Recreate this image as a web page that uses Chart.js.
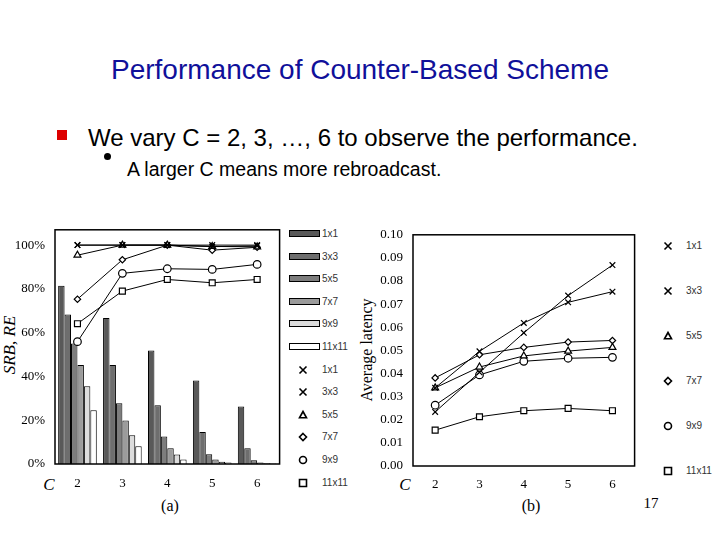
<!DOCTYPE html>
<html>
<head>
<meta charset="utf-8">
<script src="https://cdn.jsdelivr.net/npm/chart.js@4"></script>
<style>
body { margin:0; width:720px; height:540px; background:#fff; position:relative; overflow:hidden; font-family:"Liberation Sans", Arial, sans-serif; }
.t { position:absolute; white-space:nowrap; line-height:1; }
.serif { font-family:"Liberation Serif", "Times New Roman", serif; }
canvas { position:absolute; }
</style>
</head>
<body>

<div class="t" id="title" style="left:0;width:720px;top:56px;text-align:center;font-size:28px;color:#10109a;">Performance of Counter-Based Scheme</div>
<div style="position:absolute;left:57px;top:130px;width:10px;height:10px;background:#dd0000;"></div>
<div class="t" style="left:88px;top:126px;font-size:24px;color:#000;">We vary C = 2, 3, …, 6 to observe the performance.</div>
<div style="position:absolute;left:104px;top:153px;width:7px;height:7px;border-radius:50%;background:#000;"></div>
<div class="t" style="left:127px;top:160px;font-size:19.5px;color:#000;">A larger C means more rebroadcast.</div>

<div class="t serif" style="left:9px;top:345px;font-size:17px;font-style:italic;transform:translate(-50%,-50%) rotate(-90deg);">SRB, RE</div>
<div class="t serif" style="left:49px;top:484px;font-size:17px;font-style:italic;transform:translate(-50%,-50%);">C</div>
<div class="t serif" style="left:170px;top:506px;font-size:16px;transform:translate(-50%,-50%);">(a)</div>

<div class="t serif" style="left:367px;top:350px;font-size:16px;transform:translate(-50%,-50%) rotate(-90deg);">Average latency</div>
<div class="t serif" style="left:405px;top:484px;font-size:17px;font-style:italic;transform:translate(-50%,-50%);">C</div>
<div class="t serif" style="left:531px;top:506px;font-size:16px;transform:translate(-50%,-50%);">(b)</div>
<div class="t serif" style="left:651px;top:503px;font-size:15px;transform:translate(-50%,-50%);">17</div>

<canvas id="chartA" width="285" height="300" style="left:0;top:212px;"></canvas>
<canvas id="chartB" width="270" height="300" style="left:370px;top:217px;"></canvas>
<div id="legendA"></div>
<div id="legendB"></div>

<script>
// C values on the x axis
const cValues = ['2', '3', '4', '5', '6'];
const gridSizes = ['1x1', '3x3', '5x5', '7x7', '9x9', '11x11'];

// (a) SRB bars, percent
const srb1x1 = [81.4, 66.7, 51.9, 38.2, 26.3];
const srb3x3 = [68.3, 45.2, 26.8, 14.6, 7.2];
const srb5x5 = [55.0, 27.7, 12.6, 4.4, 1.7];
const srb7x7 = [45.2, 19.9, 7.2, 2.1, 0.7];
const srb9x9 = [35.5, 13.1, 4.3, 1.0, 0.3];
const srb11x11 = [24.5, 8.1, 2.0, 0.7, 0.2];

// (a) RE lines, percent
const re1x1 = [100, 100, 100, 100, 100];
const re3x3 = [100, 100, 100, 99.3, 99.6];
const re5x5 = [95.4, 100, 100, 99.4, 99.2];
const re7x7 = [75.3, 93.3, 100, 97.7, 99.0];
const re9x9 = [55.9, 87.1, 89.2, 88.9, 91.2];
const re11x11 = [64.1, 79.0, 84.3, 82.8, 84.3];

// (b) average latency
const lat1x1 = [0.0234, 0.0405, 0.0576, 0.0737, 0.0869];
const lat3x3 = [0.0338, 0.0496, 0.0619, 0.0708, 0.0754];
const lat5x5 = [0.0338, 0.0428, 0.0476, 0.0497, 0.0513];
const lat7x7 = [0.0381, 0.0481, 0.0513, 0.0536, 0.0543];
const lat9x9 = [0.0263, 0.0394, 0.0453, 0.0466, 0.0470];
const lat11x11 = [0.0155, 0.0213, 0.0239, 0.0249, 0.0239];

const srbSeries = [srb1x1, srb3x3, srb5x5, srb7x7, srb9x9, srb11x11];
const reSeries = [re1x1, re3x3, re5x5, re7x7, re9x9, re11x11];
const latSeries = [lat1x1, lat3x3, lat5x5, lat7x7, lat9x9, lat11x11];

const barColors = ['#595959', '#6e6e6e', '#7d7d7d', '#9b9b9b', '#dcdcdc', '#ffffff'];
const markerStyles = ['crossRot', 'crossRot', 'triangle', 'rectRot', 'circle', 'rect'];
const markerSizes = [4, 4, 4, 3.2, 3.8, 4.2];

const SERIF = '"Liberation Serif", "Times New Roman", serif';

// box around plot area
const frame = {
  id: 'frame',
  afterDraw(chart) {
    const a = chart.chartArea, ctx = chart.ctx;
    ctx.save();
    ctx.strokeStyle = '#000';
    ctx.lineWidth = 1.5;
    ctx.strokeRect(a.left, a.top, a.right - a.left, a.bottom - a.top);
    ctx.restore();
  }
};

const lineSet = (values, i) => ({
  type: 'line',
  label: gridSizes[i],
  data: values,
  order: 0,
  borderColor: '#000',
  borderWidth: 1,
  pointStyle: markerStyles[i],
  pointRadius: markerSizes[i],
  pointBorderColor: '#000',
  pointBackgroundColor: '#fff',
  pointBorderWidth: 1.2,
  fill: false,
  tension: 0
});

new Chart(document.getElementById('chartA'), {
  type: 'bar',
  data: {
    labels: cValues,
    datasets: [
      ...srbSeries.map((values, i) => ({
        label: gridSizes[i],
        data: values,
        order: 1,
        backgroundColor: barColors[i],
        borderColor: '#000',
        borderWidth: 1,
        categoryPercentage: 0.86,
        barPercentage: 1
      })),
      ...reSeries.map(lineSet)
    ]
  },
  options: {
    responsive: false,
    animation: false,
    layout: { padding: { top: 0, right: 1, left: 0, bottom: 0 } },
    plugins: { legend: { display: false }, tooltip: { enabled: false } },
    scales: {
      x: {
        grid: { display: false, drawTicks: false },
        border: { display: false },
        ticks: { padding: 12, color: '#000', font: { family: SERIF, size: 13 } },
        afterFit(s) { s.height = 48; }
      },
      y: {
        min: 0,
        max: 107,
        grid: { display: false, drawTicks: false },
        border: { display: false },
        ticks: { stepSize: 20, padding: 10, color: '#000', font: { family: SERIF, size: 13 }, callback: v => v + '%' },
        afterBuildTicks(s) { s.ticks = s.ticks.filter(t => t.value % 20 === 0); },
        afterFit(s) { s.width = 55; }
      }
    }
  },
  plugins: [frame]
});

new Chart(document.getElementById('chartB'), {
  type: 'line',
  data: {
    labels: cValues,
    datasets: latSeries.map(lineSet)
  },
  options: {
    responsive: false,
    animation: false,
    layout: { padding: { top: 0, right: 2, left: 0, bottom: 0 } },
    plugins: { legend: { display: false }, tooltip: { enabled: false } },
    scales: {
      x: {
        offset: true,
        grid: { display: false, drawTicks: false },
        border: { display: false },
        ticks: { padding: 11, color: '#000', font: { family: SERIF, size: 13 } },
        afterFit(s) { s.height = 51; }
      },
      y: {
        min: 0,
        max: 0.1,
        grid: { display: false, drawTicks: false },
        border: { display: false },
        ticks: { stepSize: 0.01, padding: 10, color: '#000', font: { family: SERIF, size: 13 }, callback: v => v.toFixed(2) },
        afterFit(s) { s.width = 43; }
      }
    }
  },
  plugins: [frame]
});

// legends
function drawMarker(ctx, style, x, y, r) {
  ctx.beginPath();
  if (style === 'crossRot') {
    ctx.moveTo(x - r, y - r); ctx.lineTo(x + r, y + r);
    ctx.moveTo(x + r, y - r); ctx.lineTo(x - r, y + r);
  } else if (style === 'triangle') {
    ctx.moveTo(x, y - r); ctx.lineTo(x + r, y + r * 0.8); ctx.lineTo(x - r, y + r * 0.8); ctx.closePath();
  } else if (style === 'rectRot') {
    ctx.moveTo(x, y - r); ctx.lineTo(x + r, y); ctx.lineTo(x, y + r); ctx.lineTo(x - r, y); ctx.closePath();
  } else if (style === 'circle') {
    ctx.arc(x, y, r, 0, Math.PI * 2);
  } else {
    ctx.rect(x - r, y - r, r * 2, r * 2);
  }
  ctx.fillStyle = '#fff';
  if (style !== 'crossRot') ctx.fill();
  ctx.strokeStyle = '#000';
  ctx.lineWidth = 1.6;
  ctx.stroke();
}

function legendText(parent, text, x, y) {
  const d = document.createElement('div');
  d.className = 't';
  d.style.cssText = `left:${x}px;top:${y - 5}px;font-size:10px;color:#333;`;
  d.textContent = text;
  parent.appendChild(d);
}

function legendMarker(parent, style, x, y) {
  const c = document.createElement('canvas');
  c.width = 14; c.height = 14;
  c.style.left = (x - 7) + 'px';
  c.style.top = (y - 7) + 'px';
  parent.appendChild(c);
  drawMarker(c.getContext('2d'), style, 7, 7, 3.5);
}

const legA = document.getElementById('legendA');
gridSizes.forEach((g, i) => {
  const y = 234 + i * 22.6;
  const sw = document.createElement('div');
  sw.style.cssText = `position:absolute;left:289px;top:${Math.round(y - 4)}px;width:31px;height:7px;background:${barColors[i]};border:1px solid #000;box-sizing:border-box;`;
  legA.appendChild(sw);
  legendText(legA, g, 322, y);
});
gridSizes.forEach((g, i) => {
  const y = 234 + (i + 6) * 22.6;
  legendMarker(legA, markerStyles[i], 303, y);
  legendText(legA, g, 322, y);
});

const legB = document.getElementById('legendB');
gridSizes.forEach((g, i) => {
  const y = 246 + i * 45;
  legendMarker(legB, markerStyles[i], 668, y);
  legendText(legB, g, 686, y);
});
</script>
</body>
</html>
